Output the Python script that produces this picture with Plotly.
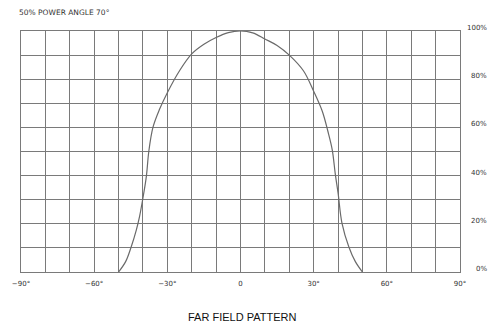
import plotly.graph_objects as go

# Far-field pattern data (angle in degrees, relative power in %)
angles = [-50, -47.1, -44.8, -42.7, -41.4, -40, -38.6, -37.6, -35.9, -33.2, -30, -25, -20, -15, -10, -5,
          0, 5, 10, 15, 20, 25.8, 30, 33.5, 35.8, 37.6, 38.9, 40, 41.6, 44.4, 47.1, 50]
power = [0, 4.3, 10.5, 17.5, 23, 30.7, 39.7, 50, 60, 67.5, 74.4, 83.5, 90.5, 94.5, 97.3, 99.3,
         100, 99.2, 96.7, 94, 90, 83.5, 75, 66.8, 58.5, 50.8, 40.4, 32.8, 20.3, 10.5, 4.3, 0]

x_grid = list(range(-90, 91, 10))
x_labels = {-90: "−90°", -60: "−60°", -30: "−30°", 0: "0", 30: "30°", 60: "60°", 90: "90°"}
y_grid = list(range(0, 101, 10))
y_label_vals = [0, 20, 40, 60, 80, 100]
y_label_text = ["0%", "20%", "40%", "60%", "80%", "100%"]

title_text = "50% POWER ANGLE 70°"
caption_text = "FAR FIELD PATTERN"

grid_color = "#7a7a7a"
tick_font = dict(family="DejaVu Sans", size=7, color="#333333")

fig = go.Figure()
fig.add_trace(go.Scatter(
    x=angles, y=power, mode="lines",
    line=dict(color="#6a6a6a", width=1.2, shape="spline", smoothing=1.0),
    hoverinfo="skip", showlegend=False,
))

fig.update_xaxes(
    range=[-90, 90],
    tickmode="array",
    tickvals=x_grid,
    ticktext=[x_labels.get(v, "") for v in x_grid],
    showgrid=True, gridcolor=grid_color, gridwidth=1.3,
    showline=True, mirror=True, linecolor=grid_color, linewidth=1.3,
    zeroline=False, ticks="", tickfont=tick_font, ticklabelstandoff=4,
)
fig.update_yaxes(
    range=[0, 100],
    tickmode="array", tickvals=y_grid,
    showticklabels=False,
    showgrid=True, gridcolor=grid_color, gridwidth=1.3,
    showline=True, mirror=True, linecolor=grid_color, linewidth=1.3,
    zeroline=False, ticks="",
)

annotations = []
for v, t in zip(y_label_vals, y_label_text):
    annotations.append(dict(
        x=1.065, xref="paper", y=v, yref="y", yshift=3, text=t, showarrow=False,
        xanchor="right", yanchor="middle", font=tick_font,
    ))
annotations.append(dict(
    x=-0.009, xref="paper", y=1.075, yref="paper", text=title_text, showarrow=False,
    xanchor="left", yanchor="middle", font=dict(family="DejaVu Sans", size=7.5, color="#333333"),
))
annotations.append(dict(
    x=0.503, xref="paper", y=-0.185, yref="paper", text=caption_text, showarrow=False,
    xanchor="center", yanchor="middle", font=dict(family="Liberation Sans", size=11, color="#111111"),
))

fig.update_layout(
    width=490, height=327,
    margin=dict(l=21, r=30, t=31, b=55),
    paper_bgcolor="white", plot_bgcolor="white",
    annotations=annotations,
)

fig.write_html("out.html", config={"displayModeBar": False},
               post_script="document.body.style.margin='0';document.body.style.overflow='hidden';")
